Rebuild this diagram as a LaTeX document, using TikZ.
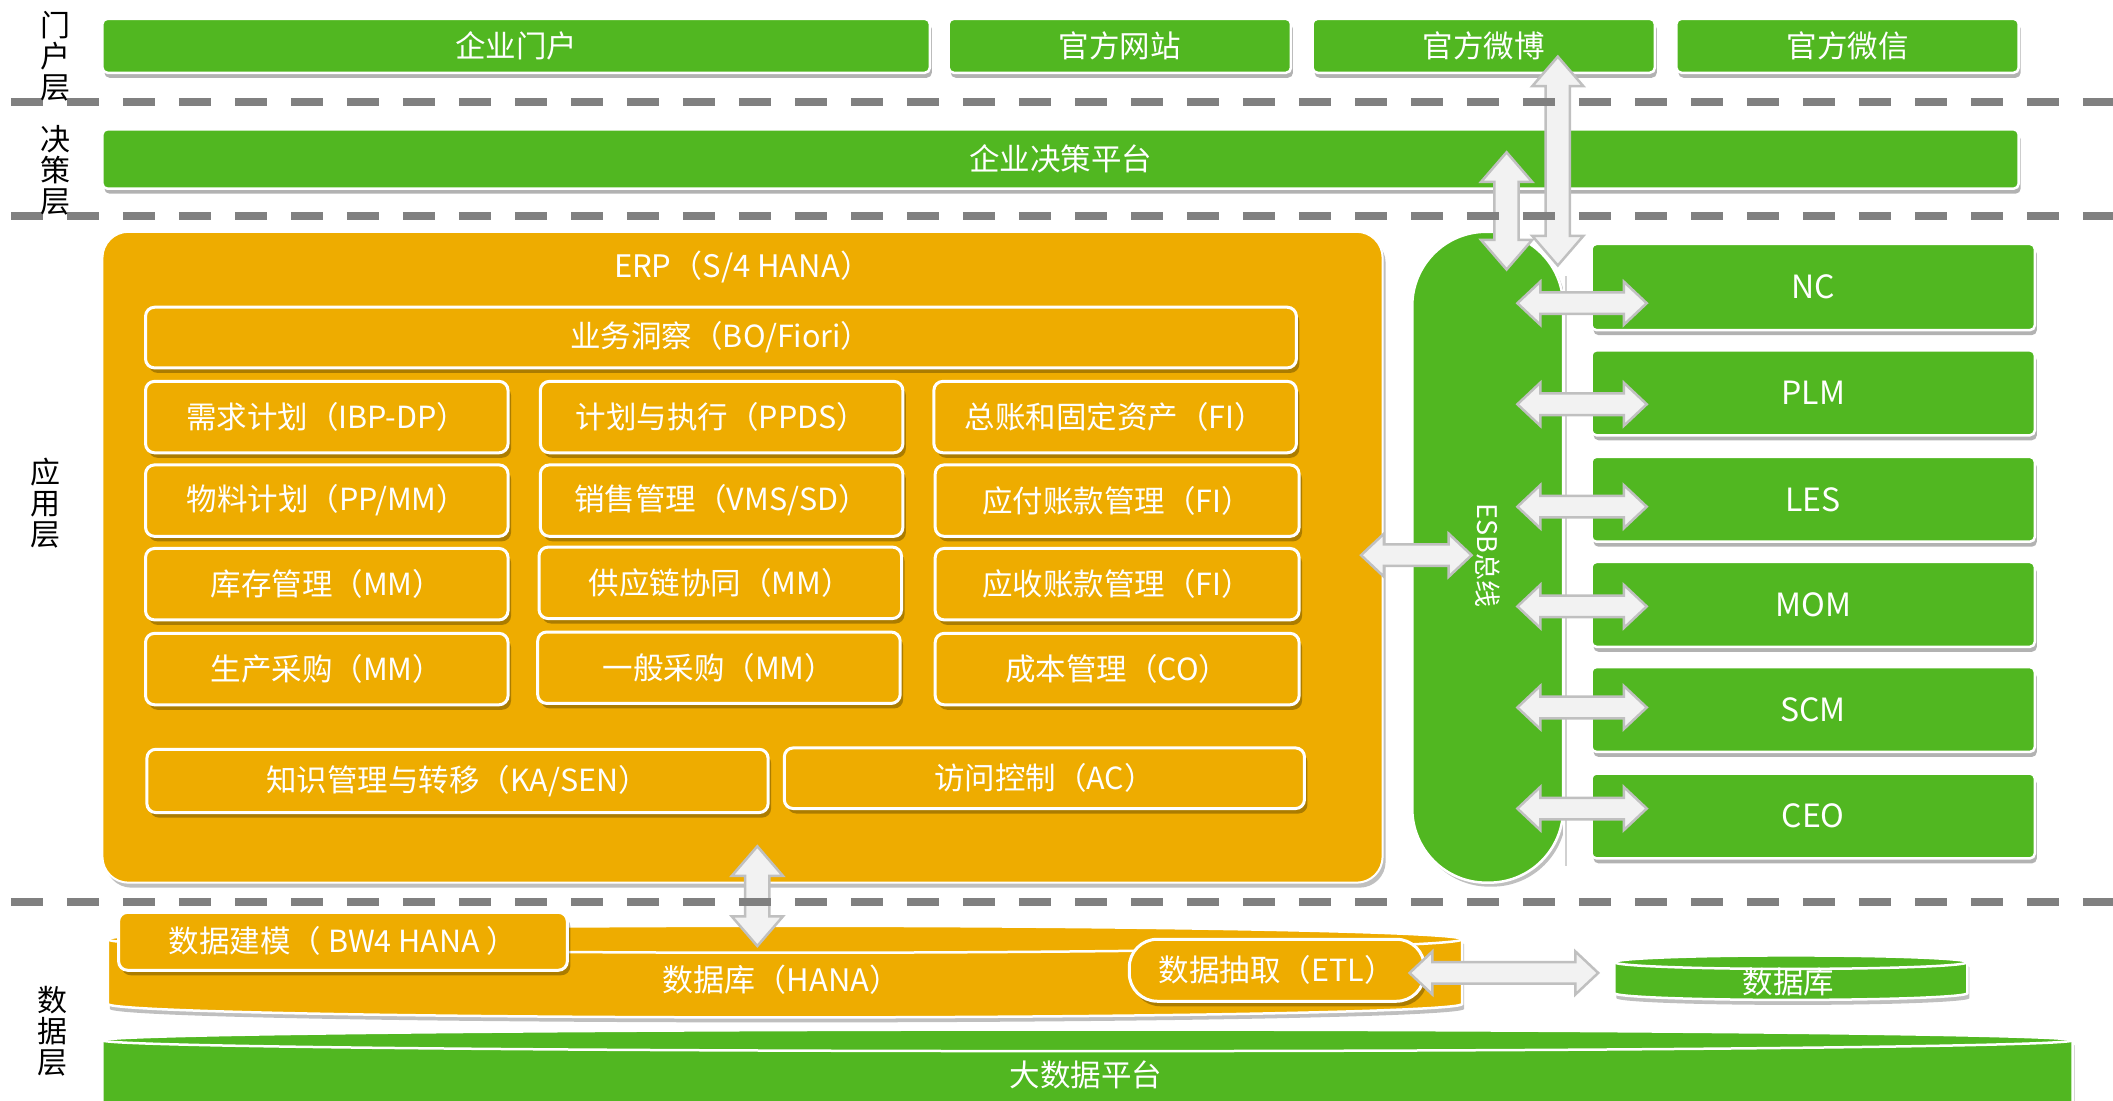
\documentclass[tikz,border=0pt]{standalone}
\usepackage{fontspec}
\newfontfamily\cjk{Noto Sans CJK SC}
\usetikzlibrary{shadows,calc}
\definecolor{grn}{RGB}{81,183,33}
\definecolor{org}{RGB}{238,172,0}
\definecolor{dgray}{RGB}{128,128,128}
\definecolor{afill}{RGB}{242,242,242}
\definecolor{aline}{RGB}{192,192,192}
\tikzset{
  base/.style={inner sep=0pt, outer sep=0pt, text=white, font=\cjk\fontsize{30.5}{32}\selectfont, align=center},
  gbox/.style={base, fill=grn, draw=white, line width=2.5pt, rounded corners=5pt,
    drop shadow={shadow xshift=2pt, shadow yshift=-5pt, fill=black, opacity=0.3}},
  obox/.style={base, fill=org, draw=white, line width=3pt, rounded corners=9pt,
    drop shadow={shadow xshift=3pt, shadow yshift=-5pt, fill=black, opacity=0.28}},
  bigbox/.style={base, fill=org, draw=white, line width=2pt, rounded corners=26pt,
    drop shadow={shadow xshift=3pt, shadow yshift=-5pt, fill=black, opacity=0.25}},
  esbbox/.style={base, fill=grn, draw=white, line width=2.5pt, rounded corners=74pt,
    drop shadow={shadow xshift=3pt, shadow yshift=-4pt, fill=black, opacity=0.25}},
  sysbox/.style={gbox, font=\cjk\fontsize{32}{33}\selectfont},
  lbl/.style={base, text=black, font=\cjk\fontsize{30}{31}\selectfont},
  txt/.style={base},
  fatarr/.style={fill=afill, draw=aline, line width=2.5pt, line join=miter},
  layerline/.style={draw=dgray, line width=8pt, dash pattern=on 32pt off 24pt},
  cylw/.style={draw=white, line width=2.5pt},
}
\newcommand\bx[7]{\node[#2, minimum width={(#5-#3)*1.3476pt}, minimum height={(#6-#4)*1.3476pt}] (#1) at ({(#3+#5)/2},{(#4+#6)/2}) {#7};}
% horizontal double fat arrow: y, xa, xb
\newcommand\harr[3]{\filldraw[fatarr] (#2,#1) -- ({#2+17},{#1-16}) -- ({#2+17},{#1-8}) -- ({#3-17},{#1-8}) -- ({#3-17},{#1-16}) -- (#3,#1) -- ({#3-17},{#1+16}) -- ({#3-17},{#1+8}) -- ({#2+17},{#1+8}) -- ({#2+17},{#1+16}) -- cycle;}
% vertical double fat arrow: x, ya(top), yb(bottom)
\newcommand\varr[3]{\filldraw[fatarr] (#1,#2) -- ({#1+19},{#2+22}) -- ({#1+9},{#2+22}) -- ({#1+9},{#3-22}) -- ({#1+19},{#3-22}) -- (#1,#3) -- ({#1-19},{#3-22}) -- ({#1-9},{#3-22}) -- ({#1-9},{#2+22}) -- ({#1-19},{#2+22}) -- cycle;}
% cylinder: x1, x2, ytop, ybot, ry, color
\newcommand\cyl[6]{%
  \path[fill=#6, cylw, drop shadow={shadow xshift=2pt, shadow yshift=-5pt, fill=black, opacity=0.25}]
    (#1,#3) -- (#1,#4) arc[start angle=180, end angle=360, x radius={(#2-#1)/2*1.3476pt}, y radius={#5*1.3476pt}]
    -- (#2,#3) arc[start angle=0, end angle=180, x radius={(#2-#1)/2*1.3476pt}, y radius={#5*1.3476pt}] -- cycle;
  \draw[cylw] (#1,#3) arc[start angle=180, end angle=360, x radius={(#2-#1)/2*1.3476pt}, y radius={#5*1.3476pt}];}
\begin{document}
\begin{tikzpicture}[x=1.3476pt, y=-1.3476pt]
\useasboundingbox (0,0) rectangle (1568,817);

% portal layer
\bx{p1}{gbox}{76}{14}{690}{54}{企业门户}
\bx{p2}{gbox}{704}{14}{958}{54}{官方网站}
\bx{p3}{gbox}{974}{14}{1228}{54}{官方微博}
\bx{p4}{gbox}{1244}{14}{1498}{54}{官方微信}
% decision layer
\bx{dec}{gbox}{76}{96}{1498}{140}{企业决策平台}

% ERP
\bx{erp}{bigbox}{76}{172}{1026}{655}{}
\node[txt, font=\cjk\fontsize{31}{32}\selectfont] (erptitle) at (551,198) {ERP（S/4 HANA）};
\bx{bo}{obox}{108}{228}{962}{273}{业务洞察（BO/Fiori）}
\bx{m11}{obox}{108}{283}{377}{336}{需求计划（IBP-DP）}
\bx{m12}{obox}{401}{283}{670}{336}{计划与执行（PPDS）}
\bx{m13}{obox}{693}{283}{962}{336}{总账和固定资产（FI）}
\bx{m21}{obox}{108}{345}{377}{398}{物料计划（PP/MM）}
\bx{m22}{obox}{401}{345}{670}{398}{销售管理（VMS/SD）}
\bx{m23}{obox}{694}{345}{964}{398}{应付账款管理（FI）}
\bx{m31}{obox}{108}{407}{377}{460}{库存管理（MM）}
\bx{m32}{obox}{400}{406}{669}{459}{供应链协同（MM）}
\bx{m33}{obox}{694}{407}{964}{460}{应收账款管理（FI）}
\bx{m41}{obox}{108}{470}{377}{523}{生产采购（MM）}
\bx{m42}{obox}{399}{469}{668}{522}{一般采购（MM）}
\bx{m43}{obox}{694}{470}{964}{523}{成本管理（CO）}
\bx{ka}{obox}{109}{556}{570}{603}{知识管理与转移（KA/SEN）}
\bx{ac}{obox}{582}{555}{968}{600}{访问控制（AC）}

% ESB
\bx{esb}{esbbox}{1048}{172}{1160}{655}{}
\node[txt, rotate=-90, font=\cjk\fontsize{27}{28}\selectfont] (esbtxt) at (1104,412) {ESB总线};
\draw[white, line width=6pt] (1162,205) -- (1162,643);
\draw[black!18, line width=2.5pt] (1162,205) -- (1162,643);

% systems
\bx{nc}{sysbox}{1181}{181}{1510}{245}{NC}
\bx{plm}{sysbox}{1181}{260}{1510}{323}{PLM}
\bx{les}{sysbox}{1181}{339}{1510}{402}{LES}
\bx{mom}{sysbox}{1181}{417}{1510}{480}{MOM}
\bx{scm}{sysbox}{1181}{495}{1510}{558}{SCM}
\bx{ceo}{sysbox}{1181}{574}{1510}{637}{CEO}

% data layer
\cyl{76}{1538}{772}{840}{8}{grn}
\node[txt] (bigdata) at (806,798) {大数据平台};
\cyl{80}{1085}{697}{745}{10}{org}
\node[txt, font=\cjk\fontsize{31}{32}\selectfont] (hana) at (580,727) {数据库（HANA）};
\bx{bw}{obox}{88}{677}{421}{720}{数据建模（ BW4 HANA ）}
\bx{etl}{obox, rounded corners=28pt}{838}{697}{1057}{743}{数据抽取（ETL）}
\cyl{1198}{1460}{714}{737}{5}{grn}
\node[txt] (db) at (1327,729) {数据库};

% arrows
\varr{1156}{42}{197}
\varr{1118}{113}{200}
\harr{225}{1126}{1222}
\harr{300}{1126}{1222}
\harr{376}{1126}{1222}
\harr{450}{1126}{1222}
\harr{525}{1126}{1222}
\harr{600}{1126}{1222}
\harr{412}{1010}{1092}
\varr{562}{628}{702}
\harr{722}{1046}{1186}

% layer separators
\draw[layerline] (8,76) -- (1568,76);
\draw[layerline] (8,160) -- (1568,160);
\draw[layerline] (8,669) -- (1568,669);

% layer labels
\node[lbl] (l1) at (41,42) {门\\户\\层};
\node[lbl] (l2) at (41,126) {决\\策\\层};
\node[lbl] (l3) at (34,373) {应\\用\\层};
\node[lbl] (l4) at (39,765) {数\\据\\层};
\end{tikzpicture}
\end{document}
